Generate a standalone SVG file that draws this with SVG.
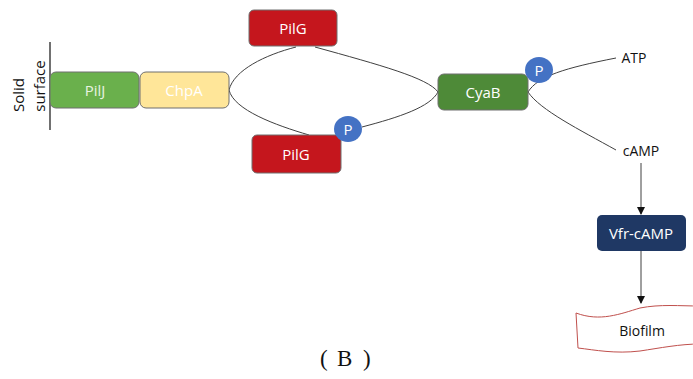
<svg xmlns="http://www.w3.org/2000/svg" width="693" height="379" viewBox="0 0 693 379">
<style>
.box{stroke:#6f6f6f;stroke-width:1}
.lbl{font-family:"Open Sans","Liberation Sans",sans-serif;font-size:15px;fill:#ffffff;text-anchor:middle;dominant-baseline:central}
.dark{font-family:"Open Sans","Liberation Sans",sans-serif;font-size:14px;fill:#111;text-anchor:middle;dominant-baseline:central}
.p{fill:#4472c4}
.conn{fill:none;stroke:#404040;stroke-width:1}
</style>
<defs>
<marker id="arr" markerWidth="8" markerHeight="8" refX="7" refY="4" orient="auto" markerUnits="userSpaceOnUse">
<path d="M0,0 L8,4 L0,8 z" fill="#111"/>
</marker>
</defs>
<rect width="693" height="379" fill="#ffffff"/>
<g id="surface">
<line x1="50" y1="42" x2="50" y2="130" stroke="#111" stroke-width="1.2"/>
<text class="dark" style="font-size:15px" transform="translate(18,95) rotate(-90)">Solid</text>
<text class="dark" style="font-size:15px" transform="translate(39,86) rotate(-90)">surface</text>
</g>
<g id="connectors">
<path class="conn" d="M229,90 C234,70 265,55 296,47"/>
<path class="conn" d="M229,90 C234,110 275,125 309,135"/>
<path class="conn" d="M315,47 C380,65 428,78 438,92"/>
<path class="conn" d="M362,127 C400,117 430,107 438,92"/>
<path class="conn" d="M528,92 C538,76 565,68 616,58"/>
<path class="conn" d="M528,92 C540,110 580,130 616,150"/>
<line class="conn" x1="641" y1="163" x2="641" y2="214" stroke="#111" marker-end="url(#arr)"/>
<line class="conn" x1="641" y1="251" x2="641" y2="303" stroke="#111" marker-end="url(#arr)"/>
</g>
<g id="PilJ">
<rect class="box" x="50" y="72" width="89" height="36" rx="6" fill="#6ab04c"/>
<text class="lbl" x="95" y="90" style="fill:#e8f3e0">PilJ</text>
</g>
<g id="ChpA">
<rect class="box" x="140" y="72" width="89" height="36" rx="6" fill="#ffe699"/>
<text class="lbl" x="184" y="90">ChpA</text>
</g>
<g id="PilG-top">
<rect class="box" x="249" y="10" width="88" height="36" rx="5" fill="#c5161d" stroke="#8a1010"/>
<text class="lbl" x="293" y="28">PilG</text>
</g>
<g id="PilG-bottom">
<rect class="box" x="252" y="135" width="89" height="38" rx="5" fill="#c5161d" stroke="#8a1010"/>
<text class="lbl" x="296" y="154">PilG</text>
</g>
<g id="P1">
<ellipse class="p" cx="348" cy="129" rx="14" ry="13"/>
<text class="lbl" x="348" y="129">P</text>
</g>
<g id="CyaB">
<rect class="box" x="438" y="74" width="90" height="36" rx="6" fill="#4e8a38" stroke="#3a5a2a"/>
<text class="lbl" x="483" y="92">CyaB</text>
</g>
<g id="P2">
<ellipse class="p" cx="539" cy="70" rx="14" ry="13"/>
<text class="lbl" x="539" y="70">P</text>
</g>
<g id="ATP">
<text class="dark" x="634" y="57">ATP</text>
</g>
<g id="cAMP">
<text class="dark" x="641" y="150">cAMP</text>
</g>
<g id="Vfr-cAMP">
<rect x="597" y="215" width="89" height="36" rx="5" fill="#1f3864"/>
<text class="lbl" x="641" y="233">Vfr-cAMP</text>
</g>
<g id="Biofilm">
<path d="M576,313 C600,322 620,314 640,308 C660,304 680,306 700,306 L700,344 C680,344 660,348 640,351 C615,354 595,350 578,348 Z" fill="#ffffff" stroke="#c0504d" stroke-width="1"/>
<text class="dark" x="642" y="330">Biofilm</text>
</g>
<text y="366" font-family="Liberation Serif,serif" font-size="23" fill="#111"><tspan x="320">(</tspan><tspan x="337">B</tspan><tspan x="363">)</tspan></text>
</svg>
